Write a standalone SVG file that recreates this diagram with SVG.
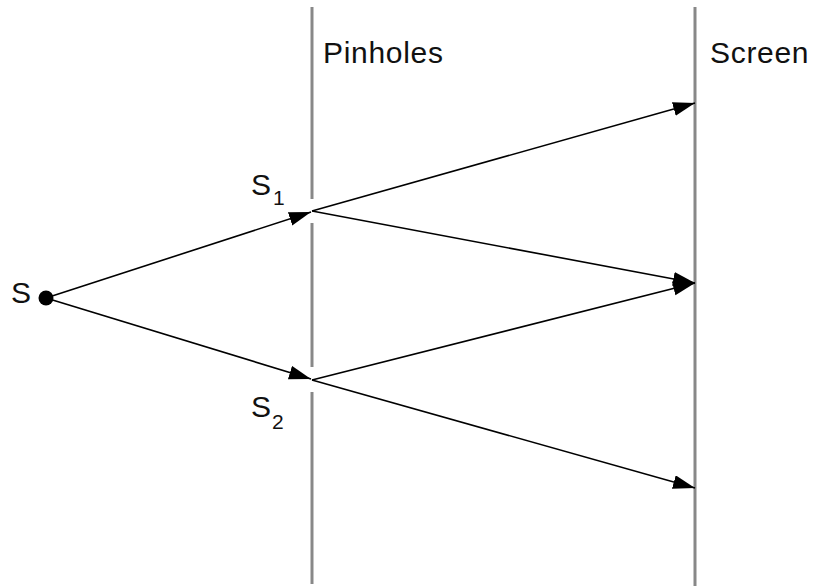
<svg xmlns="http://www.w3.org/2000/svg" width="815" height="586" viewBox="0 0 815 586">
<style>
.bar{stroke:#888;stroke-width:3;fill:none}
.ray{stroke:#000;stroke-width:1.6;fill:none;marker-end:url(#ah)}
text{font-family:"Liberation Sans",Arial,sans-serif;fill:#111}
.lbl{font-size:30px}
.wide{letter-spacing:0.7px}
.sub{font-size:21px}
</style>
<defs>
<marker id="ah" markerUnits="userSpaceOnUse" markerWidth="24" markerHeight="16" refX="22" refY="7" orient="auto">
<path d="M0,0 L22,7 L0,14 Z" fill="#000"/>
</marker>
</defs>
<rect width="815" height="586" fill="#fff"/>
<g id="pinholes">
<line class="bar" x1="312" y1="7" x2="312" y2="199"/>
<line class="bar" x1="312" y1="223" x2="312" y2="367"/>
<line class="bar" x1="312" y1="392" x2="312" y2="584"/>
<text class="lbl wide" x="323" y="63">Pinholes</text>
</g>
<g id="screen">
<line class="bar" x1="695" y1="7" x2="695" y2="586"/>
<text class="lbl wide" x="710" y="63">Screen</text>
</g>
<g id="source">
<circle cx="46" cy="298" r="7.5" fill="#000"/>
<text class="lbl" x="11" y="303">S</text>
</g>
<g id="s1">
<text class="lbl" x="251" y="195">S</text>
<text class="sub" x="273" y="205">1</text>
</g>
<g id="s2">
<text class="lbl" x="251" y="417">S</text>
<text class="sub" x="272" y="429">2</text>
</g>
<g id="connectors">
<line class="ray" x1="46" y1="298" x2="311" y2="212"/>
<line class="ray" x1="46" y1="298" x2="311" y2="379"/>
<line class="ray" x1="312" y1="211" x2="695" y2="103"/>
<line class="ray" x1="312" y1="211" x2="695" y2="283"/>
<line class="ray" x1="312" y1="380" x2="695" y2="283"/>
<line class="ray" x1="312" y1="380" x2="695" y2="488"/>
</g>
</svg>
